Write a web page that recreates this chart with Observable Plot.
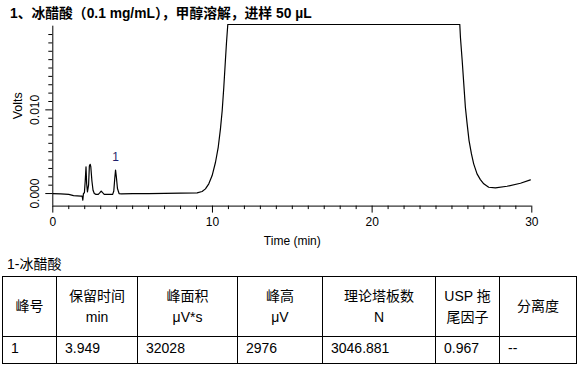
<!DOCTYPE html>
<html><head><meta charset="utf-8">
<script src="https://cdn.jsdelivr.net/npm/d3@7"></script>
<script src="https://cdn.jsdelivr.net/npm/@observablehq/plot@0.6"></script>
<style>
body{margin:0;background:#fff;width:583px;height:372px;overflow:hidden;font-family:"Liberation Sans",Arial,"Noto Sans CJK SC",sans-serif;color:#000}
#wrap{position:relative;width:583px;height:372px}
#chart{position:absolute;left:0;top:0}
#title{position:absolute;left:10px;top:5px;font-weight:bold;font-size:13.8px;white-space:nowrap;line-height:18px}
#sub{position:absolute;left:7px;top:255px;font-size:14px;line-height:18px}
table{position:absolute;left:2px;top:276px;border-collapse:collapse;table-layout:fixed;width:574px;font-size:14px}
td{border:1px solid #000;padding:0 0 0 8px}
tr.h td{height:59px;text-align:center;line-height:21px;padding:0}
tr.d td{height:27px;vertical-align:top;padding-top:2px;line-height:18px;box-sizing:border-box}
</style></head>
<body><div id="wrap">
<div id="chart"></div>
<div id="title"></div>
<div id="sub"></div>
<table id="tbl"></table>
</div>
<script>
const titleText = "1、冰醋酸（0.1 mg/mL），甲醇溶解，进样 50 µL";
const subText = "1-冰醋酸";
const times = [0, 0.5, 1.0, 1.3, 1.75, 1.84, 1.88, 1.92, 1.98, 2.03, 2.08, 2.12, 2.17, 2.24, 2.29, 2.34, 2.38, 2.45, 2.52, 2.60, 2.70, 2.85, 2.95, 3.03, 3.12, 3.22, 3.5, 3.75, 3.82, 3.88, 3.93, 3.98, 4.05, 4.15, 4.3, 5.0, 6.0, 7.0, 8.0, 9.04, 9.35, 9.56, 9.77, 9.98, 10.19, 10.36, 10.50, 10.61, 10.71, 10.81, 10.88, 10.96, 25.49, 25.53, 25.64, 25.74, 25.84, 25.95, 26.07, 26.22, 26.36, 26.57, 26.78, 26.99, 27.30, 27.72, 28.45, 29.29, 29.91];
const volts = [0.0000, -0.00005, -0.0001, -0.00024, -0.0003, -0.0003, -0.0008, 0.0000, 0.0001, 0.0015, 0.0032, 0.0012, 0.0002, 0.0010, 0.0033, 0.0035, 0.0032, 0.0015, 0.0004, 0.0000, -0.0001, -0.0001, 0.0001, 0.0003, 0.0001, -0.0001, -0.0001, -0.0001, 0.0003, 0.0018, 0.0028, 0.0020, 0.0006, 0.0000, -0.00005, 0.0000, 0.0000, 0.00002, 0.00004, 0.00008, 0.00024, 0.00056, 0.00116, 0.00215, 0.00374, 0.00553, 0.00773, 0.00992, 0.01270, 0.01589, 0.01808, 0.0202, 0.0202, 0.01868, 0.01589, 0.01311, 0.01031, 0.00833, 0.00633, 0.00474, 0.00355, 0.00235, 0.00167, 0.00116, 0.00075, 0.00068, 0.00087, 0.00123, 0.00164];
const peakTimes = [3.93];
const peakVolts = [0.0028];
const peakNames = ["1"];
const xTicks = [0, 10, 20, 30];
const xMinorTicks = [1,2,3,4,5,6,7,8,9,11,12,13,14,15,16,17,18,19,21,22,23,24,25,26,27,28,29];
const yTicks = [0.000, 0.010];
const yMinorTicks = [0.001,0.002,0.003,0.004,0.005,0.006,0.007,0.008,0.009,0.011,0.012,0.013,0.014,0.015,0.016,0.017,0.018,0.019];
const xLabel = "Time (min)";
const yLabel = "Volts";
const headers = [["峰号"], ["保留时间", "min"], ["峰面积", "μV*s"], ["峰高", "μV"], ["理论塔板数", "N"], ["USP 拖", "尾因子"], ["分离度"]];
const rowValues = ["1", "3.949", "32028", "2976", "3046.881", "0.967", "--"];
const colWidths = [54, 81, 100, 85, 113, 64, 77];

document.getElementById("title").textContent = titleText;
document.getElementById("sub").textContent = subText;

const data = times.map((t, i) => ({t, v: volts[i]}));
const peaks = peakTimes.map((t, i) => ({t, v: peakVolts[i], label: peakNames[i]}));

const W = 583, H = 250, mL = 52.3, mR = 51.7, mT = 24, mB = 44.4;
const xDomain = [0, 30], yDomain = [-0.0015, 0.0202], yAxisTop = 0.0200;
// convert pixel tick lengths into data units via the scale ratios
const pxPerMin = (W - mL - mR) / (xDomain[1] - xDomain[0]);
const pxPerVolt = (H - mT - mB) / (yDomain[1] - yDomain[0]);
const yMin = yDomain[0];
const xt = px => yMin - px / pxPerVolt;
const yt = px => xDomain[0] - px / pxPerMin;

const plot = Plot.plot({
  width: W, height: H,
  marginLeft: mL, marginRight: mR, marginTop: mT, marginBottom: mB,
  style: {fontFamily: "'Liberation Sans', Arial, sans-serif", fontSize: "12px", color: "#000", background: "transparent"},
  x: {domain: xDomain, axis: null},
  y: {domain: yDomain, axis: null},
  marks: [
    Plot.ruleY([yMin], {stroke: "#000"}),
    Plot.ruleX([0], {y1: yMin, y2: yAxisTop, stroke: "#000"}),
    Plot.ruleX(xMinorTicks, {x: d => d, y1: yMin, y2: xt(3.5), stroke: "#000"}),
    Plot.ruleX(xTicks, {x: d => d, y1: yMin, y2: xt(7), stroke: "#000"}),
    Plot.ruleY(yMinorTicks, {y: d => d, x1: 0, x2: yt(4), stroke: "#000"}),
    Plot.ruleY(yTicks, {y: d => d, x1: 0, x2: yt(7), stroke: "#000"}),
    Plot.text(xTicks, {x: d => d, y: yMin, text: d => String(d), dy: 16, fontSize: 12}),
    Plot.text(yTicks, {x: 0, y: d => d, text: d => d.toFixed(3), rotate: -90, dx: -18, fontSize: 12}),
    Plot.text([yLabel], {frameAnchor: "left", rotate: -90, dx: -35, dy: 4, fontSize: 12.5, lineAnchor: "middle"}),
    Plot.text([xLabel], {frameAnchor: "bottom", dy: 35, fontSize: 12, lineAnchor: "middle"}),
    Plot.line(data, {x: "t", y: "v", stroke: "#000", strokeWidth: 1.2, clip: true}),
    Plot.text(peaks, {x: "t", y: "v", text: "label", dy: -13, fill: "#1f1f6b", fontSize: 12})
  ]
});
document.getElementById("chart").appendChild(plot);

const tbl = document.getElementById("tbl");
const cg = document.createElement("colgroup");
colWidths.forEach(w => { const c = document.createElement("col"); c.style.width = w + "px"; cg.appendChild(c); });
tbl.appendChild(cg);
const hr = document.createElement("tr"); hr.className = "h";
headers.forEach(lines => {
  const td = document.createElement("td");
  lines.forEach((l, i) => { if (i) td.appendChild(document.createElement("br")); td.appendChild(document.createTextNode(l)); });
  hr.appendChild(td);
});
tbl.appendChild(hr);
const dr = document.createElement("tr"); dr.className = "d";
rowValues.forEach(v => { const td = document.createElement("td"); td.textContent = v; dr.appendChild(td); });
tbl.appendChild(dr);
</script>
</body></html>
